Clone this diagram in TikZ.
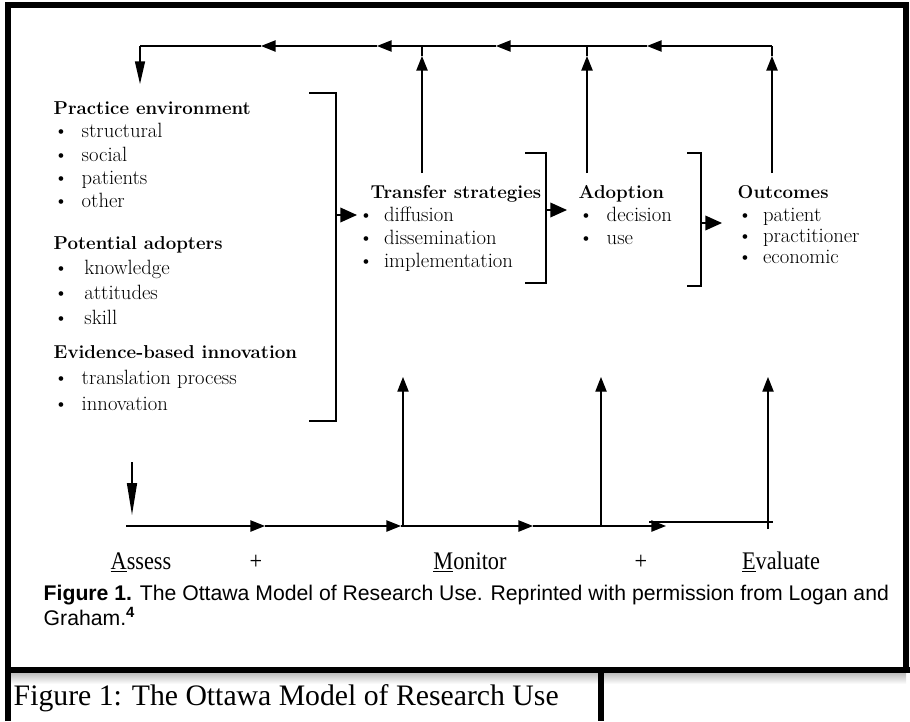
\documentclass[tikz,border=0pt]{standalone}
\usepackage{fontspec}
\newfontfamily\timesfont{Liberation Serif}
\newfontfamily\timesnarrow[FakeStretch=0.88]{Liberation Serif}
\newfontfamily\arialfont{Liberation Sans}
\usetikzlibrary{arrows.meta,positioning}

\newcommand{\itm}[2][19pt]{\makebox[#1][l]{\textbullet}#2}
\newcommand{\hd}[1]{{\fontsize{14}{14}\selectfont\bfseries #1}}

\begin{document}
\begin{tikzpicture}[x=0.75pt,y=-0.75pt,line width=1.1pt,
            >={Triangle[length=11pt,width=8.5pt]},
            block/.style={align=left,inner sep=0pt,anchor=north west,
             font=\fontsize{15.5}{#1}\selectfont},
            block/.default=18.5pt,
            dn/.style={-{Triangle[length=#1,width=7.5pt]}},
            big/.style={-{Triangle[length=12.5pt,width=11pt]}},
            lab/.style={font=\timesnarrow\fontsize{19}{20}\selectfont,inner sep=0pt},
            frame/.style={line width=3.8pt}]

    \useasboundingbox (0,0) rectangle (910,721);

    % outer frame and the lower caption cell
    \shade[top color=gray!60,bottom color=white] (10,671) rectangle (906,684);
    \draw[frame] (8,721) -- (8,5) -- (906,5) -- (906,670);
    \draw[frame] (6,670) -- (910,670);
    \draw[frame] (601,670) -- (601,721);

    % text blocks
    \node[block=17.5pt] (penv) at (53,101) {\hd{Practice environment}\\
        \itm[21pt]{structural}\\ \itm[21pt]{social}\\ \itm[21pt]{patients}\\ \itm[21pt]{other}};
    \node[block=18.75pt,below=20pt of penv.south west,anchor=north west] (padopt) {\hd{Potential adopters}\\
        \itm[23pt]{knowledge}\\ \itm[23pt]{attitudes}\\ \itm[23pt]{skill}};
    \node[block=19.5pt,below=14.75pt of padopt.south west,anchor=north west] (evid) {\hd{Evidence-based innovation}\\
        \itm[21pt]{translation process}\\ \itm[21pt]{innovation}};

    \node[block=17.25pt] (trans) at (358,185) {\hspace*{9pt}\hd{Transfer strategies}\\
        \itm{diffusion}\\ \itm{dissemination}\\ \itm{implementation}};
    \node[block=17.25pt] (adopt) at (578,185) {\hd{Adoption}\\
        \itm[21pt]{decision}\\ \itm[21pt]{use}};
    \node[block=15.75pt] (outc) at (737,185) {\hd{Outcomes}\\[1.5pt]
        \itm{patient}\\ \itm{practitioner}\\ \itm{economic}};

    % brackets
    \draw (309,93) -| (336,421) -- (309,421);
    \draw (525,153) -| (546,283) -- (525,283);
    \draw (687,153) -| (701,286) -- (687,286);

    \coordinate (br1) at (336,215);
    \coordinate (br1tip) at (357,215);
    \coordinate (br2) at (546,210);
    \coordinate (br2tip) at (567,210);
    \coordinate (br3) at (701,223);
    \coordinate (br3tip) at (722,223);
    \foreach \a/\b in {br1/br1tip, br2/br2tip, br3/br3tip}
        \draw[big] (\a) -- (\b);

    % feedback loop along the top
    \coordinate (tsbot) at (422,173);
    \coordinate (tstip) at (422,56);
    \coordinate (tstop) at (422,46);
    \coordinate (adbot) at (587,173);
    \coordinate (adtip) at (587,56);
    \coordinate (adtop) at (587,46);
    \coordinate (ocbot) at (772,173);
    \coordinate (octip) at (772,56);
    \coordinate (octop) at (772,46);
    \coordinate (ft1) at (647,46);
    \coordinate (ft2) at (496,46);
    \coordinate (ft3) at (377,46);
    \coordinate (ft4) at (261,46);
    \coordinate (corner) at (140,46);
    \coordinate (fbtip) at (140,84);

    \foreach \a/\b in {tsbot/tstip, adbot/adtip, ocbot/octip,
                       octop/ft1, adtop/ft2, tstop/ft3, ft3/ft4}
        \draw[->] (\a) -- (\b);
    \draw (tstip) -- (tstop) (adtip) -- (adtop) (octip) -- (octop);
    \draw (ft1) -- (adtop) (ft2) -- (tstop) (ft4) -- (corner);
    \draw[dn=17pt] (corner) -- (fbtip);

    % assess / monitor / evaluate line
    \coordinate (asstop) at (132,462);
    \coordinate (asstip) at (132,515);
    \coordinate (bstart) at (126,526);
    \coordinate (bt1) at (265,526);
    \coordinate (bt2) at (401,526);
    \coordinate (mon) at (403,526);
    \coordinate (bt3) at (533,526);
    \coordinate (adv) at (601,526);
    \coordinate (bt4) at (666,526);
    \coordinate (evs) at (649,522);
    \coordinate (evend) at (773,522);
    \coordinate (evbase) at (768,529);
    \coordinate (monup) at (403,377);
    \coordinate (advup) at (601,377);
    \coordinate (evup) at (768,377);

    \draw[dn=24pt] (asstop) -- (asstip);
    \foreach \a/\b in {bstart/bt1, bt1/bt2, mon/bt3, adv/bt4}
        \draw[->] (\a) -- (\b);
    \draw (bt2) -- (mon) (bt3) -- (adv) (evs) -- (evend);
    \foreach \a/\b in {mon/monup, adv/advup, evbase/evup}
        \draw[->,line width=0.8pt] (\a) -- (\b);

    \node[lab] (assess) at (141,562) {\underline{A}ssess};
    \node[lab] (plus1) at (256,562) {+};
    \node[lab] (monitor) at (470,562) {\underline{M}onitor};
    \node[lab] (plus2) at (641,562) {+};
    \node[lab] (evaluate) at (781,562) {\underline{E}valuate};

    % captions
    \node[anchor=north west,align=left,inner sep=0pt,
          font=\arialfont\fontsize{15.9}{19}\selectfont] (cap) at (43,584)
        {\textbf{Figure 1.} The Ottawa Model of Research Use. Reprinted with permission from Logan and\\
         Graham.\textsuperscript{\textbf{4}}};
    \node[anchor=west,inner sep=0pt,font=\timesfont\fontsize{22.3}{24}\selectfont] (figlabel) at (13,698)
        {Figure 1: The Ottawa Model of Research Use};

\end{tikzpicture}
\end{document}
